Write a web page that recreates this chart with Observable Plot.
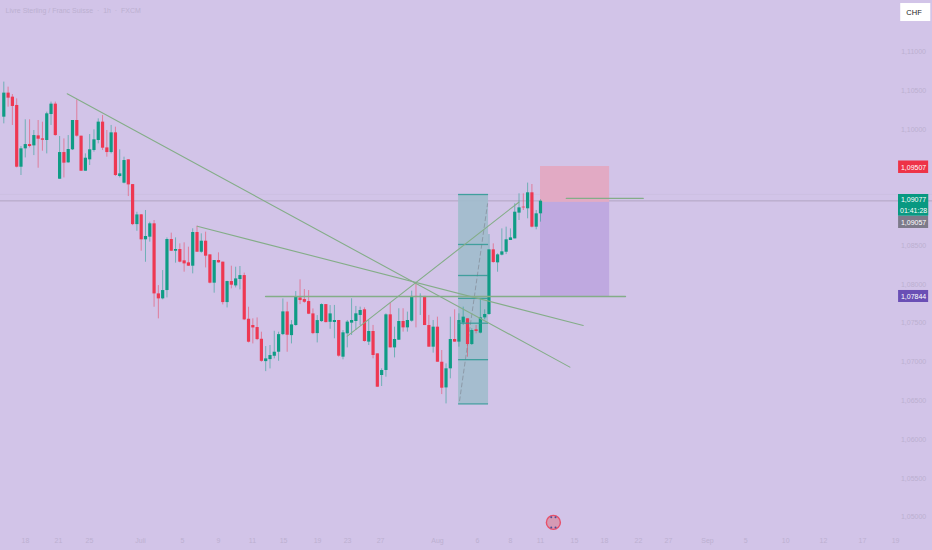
<!DOCTYPE html>
<html><head><meta charset="utf-8">
<script src="https://cdn.jsdelivr.net/npm/d3@7"></script>
<script src="https://cdn.jsdelivr.net/npm/@observablehq/plot@0.6"></script>
<style>html,body{margin:0;padding:0;background:#d2c4e8;overflow:hidden}svg{display:block}</style>
</head><body><div id="c"></div>
<script>
// prices in points (1/100000)
const opens=[110156,110466,110414,110307,109511,109748,109803,109786,109915,109876,109855,110190,110324,109356,109700,109567,109735,110113,109911,109459,109606,109726,109855,110092,109760,109700,109954,109391,109305,109606,109287,108771,
108897,108575,108609,108781,107878,107814,107921,108579,108428,108450,108304,108278,108235,108669,108415,108557,108381,108016,108308,108287,107766,108037,107981,108063,108114,107551,107470,107444,107293,107005,107031,107074,107126,107353,107646,107340,107470,107826,107805,107779,107620,107366,107521,107740,107512,
107509,107535,107062,107363,107501,107522,107600,107673,107256,107393,107105,106826,106890,107608,107182,107281,107522,107440,107526,107845,107836,107845,107470,107191,107449,106997,106666,106912,107290,107256,107501,107557,107225,107415,107372,107569,107612,
108446,108278,108377,108415,108566,108587,108919,108996,108975,109181,108738,108910];
const closes=[110466,110401,110294,109511,109748,109803,109778,109919,109872,109859,110199,110324,109919,109700,109563,109739,110113,109911,109459,109627,109735,109864,110092,109756,109700,109954,109404,109425,109597,109283,108771,108896,
108575,108618,108781,107878,107814,107921,108579,108428,108450,108287,108265,108235,108669,108415,108557,108364,108016,108308,108278,107766,108037,107990,108071,108114,107543,107255,107439,107289,107009,107040,107083,107126,107353,107646,107345,107478,107835,107792,107770,107616,107366,107534,107740,107508,107620,
107535,107075,107376,107514,107535,107621,107664,107264,107393,107084,106675,106890,107608,107182,107290,107522,107440,107535,107845,107836,107845,107470,107191,107449,106997,106662,106912,107290,107256,107535,107578,107225,107406,107393,107569,107612,108446,
108282,108381,108420,108575,108600,108931,108987,108987,109181,108738,108910,109073];
const highs=[110608,110543,110448,110392,109778,110122,110122,109984,110113,110091,110220,110350,110350,109907,109876,109919,110113,110380,109911,109683,109932,109993,110134,110178,109984,110049,110027,109735,109640,109606,109287,108930,
108901,108953,108802,108824,107985,108179,108600,108661,108600,108523,108536,108480,108717,108751,108652,108674,108381,108308,108407,108287,108041,108235,108222,108231,108145,107706,107556,107568,107384,107199,107212,107396,107384,107813,107770,107534,107908,108059,107934,107921,107684,107598,107749,107740,107727,
107729,107535,107406,107535,107815,107716,107707,107698,107535,107471,107105,106912,107621,107759,107449,107686,107686,107643,107913,108021,107879,107845,107600,107535,107578,107148,106976,107578,107673,107621,107707,107557,107428,107471,107815,107673,108643,
108523,108394,108716,108738,108716,109039,109168,109168,109306,109288,108953,109091];
const lows=[110070,110285,110049,109502,109404,109631,109760,109661,109498,109717,109683,110049,109911,109356,109373,109563,109726,109898,109459,109459,109533,109705,109812,109726,109640,109683,109391,109373,109296,109133,108758,108685,
108428,108286,108545,107706,107556,107801,107826,108424,108274,108278,108158,108231,108136,108415,108403,108213,108007,107887,108274,107736,107697,107943,107955,107930,107534,107246,107233,107276,106997,106876,106911,107040,107009,107340,107126,107233,107461,107740,107757,107611,107353,107246,107512,107504,107422,
107299,107062,107028,107182,107342,107406,107470,107256,107213,107041,106675,106684,106804,107182,107053,107277,107385,107385,107513,107440,107600,107470,107191,107114,106997,106580,106460,106783,107256,107191,107470,107062,107213,107363,107363,107544,107600,
108274,108157,108368,108385,108566,108587,108824,108953,108846,108729,108704,108803];

// drawings: bar position / price
const trendX1=[15.77,46.05,80.99], trendX2=[132.84,135.96,120.96];
const trendP1=[110457,108750,107333], trendP2=[106934,107471,109060];
const levelX1=[61.96,132], levelX2=[145.8,149.94], levelP=[107844,109110];
const fibP=[109159,108515,108115,107820,107500,107030,106460];
const boxX=[106.92,113.9];
const dashX=[107.15,113.67], dashP=[106500,109040];
const stopBox=[126,142.1,109520,109057], targetBox=[126,142.1,109057,107844];
const lastPrice=[109077], upperBand=[109160];

// axes
const yTicks=[111000,110500,110000,108500,108000,107500,107000,106500,106000,105500,105000];
const xTickPos=[6.05,13.74,20.96,32.85,42.6,51,58.9,66.15,74.07,81.06,88.75,102,111.3,119,126,133.9,140.9,148.8,155.8,164.9,173.8,183.1,191.9,201,208.7];
const xTickText=["18","21","25","Juli","5","9","11","15","19","23","27","Aug","6","8","11","15","18","22","27","Sep","5","10","12","17","19"];
const tagText=["1,09507","1,09077","01:41:28","1,09057","1,07844"];
const tagTop=[109591,109159,109159,108876,107922], tagBottom=[109430,108882,108882,108721,107767];
const tagFill=["#ee3347","#089981","#089981","#7d7a8a","#6a4fb5"];
const tagTextP=[109507,109088,108953,108798,107844];

const C={bg:"#d2c4e8",up:"#0f9c85",down:"#ee3852",line:"#84ad88",faint:"#bcb0d0"};
const bars=d3.range(opens.length).map(k=>({i:k+1,o:opens[k],c:closes[k],h:highs[k],l:lows[k],d:closes[k]>=opens[k]?"up":"down"}));
const trends=trendX1.map((_,k)=>[[trendX1[k],trendP1[k]],[trendX2[k],trendP2[k]]]);
const levels=levelX1.map((_,k)=>[[levelX1[k],levelP[k]],[levelX2[k],levelP[k]]]);
const yTk=yTicks.map(p=>({p,t:(p/100000).toFixed(5).replace(".",",")}));
const xTk=xTickPos.map((x,k)=>({x,t:xTickText[k]}));
const tags=tagText.map((t,k)=>({t,a:tagTop[k],b:tagBottom[k],f:tagFill[k],m:tagTextP[k]}));
const tagX=[209.4,216.4];
const F="'Liberation Sans',Arial,sans-serif";

const plot=Plot.plot({
  width:932,height:550,margin:0,
  style:{background:C.bg,fontFamily:F,fontSize:"7px"},
  x:{type:"linear",domain:[0.231,217.3],range:[0,932],axis:null},
  y:{type:"linear",domain:[104570,111660],range:[550,0],axis:null},
  color:{domain:["up","down"],range:[C.up,C.down]},
  marks:[
    Plot.ruleY(lastPrice,{stroke:"#a99db8",strokeWidth:1,strokeOpacity:.8}),
    Plot.ruleY(upperBand,{stroke:"#b9adcb",strokeWidth:1,strokeOpacity:.2}),
    Plot.rect([0],{x1:boxX[0],x2:boxX[1],y1:fibP[6],y2:fibP[0],fill:"#a0bccc",fillOpacity:.9}),
    Plot.rect([0],{x1:stopBox[0],x2:stopBox[1],y1:stopBox[3],y2:stopBox[2],fill:"#e2aac4"}),
    Plot.rect([0],{x1:targetBox[0],x2:targetBox[1],y1:targetBox[3],y2:targetBox[2],fill:"#bfa9e0"}),
    Plot.line(dashX.map((x,k)=>[x,dashP[k]]),{stroke:"#8d9aa8",strokeWidth:1,strokeDasharray:"4 3"}),
    Plot.ruleX(bars,{x:"i",y1:"l",y2:"h",stroke:"d",strokeWidth:1,strokeOpacity:.5}),
    Plot.ruleX(bars,{x:"i",y1:"o",y2:"c",stroke:"d",strokeWidth:3.2}),
    Plot.ruleY(fibP,{x1:boxX[0],x2:boxX[1],stroke:"#2f9a94",strokeWidth:1.3,strokeOpacity:.85}),
    ...trends.map(t=>Plot.line(t,{stroke:C.line,strokeWidth:1.1})),
    ...levels.map(t=>Plot.line(t,{stroke:C.line,strokeWidth:1.3})),
    Plot.text(yTk,{x:212.9,y:"p",text:"t",fill:C.faint,fontSize:7}),
    Plot.text(xTk,{x:"x",y:104699,text:"t",fill:C.faint,fontSize:7}),
    Plot.rect(tags,{x1:tagX[0],x2:tagX[1],y1:"b",y2:"a",fill:"f"}),
    Plot.text(tags,{x:212.9,y:"m",text:"t",fill:"#fff",fontSize:7}),
    Plot.rect([0],{x1:209.9,x2:216.9,y1:111389,y2:111621,fill:"#ffffff"}),
    Plot.text(["CHF"],{x:211.2,y:111505,text:d=>d,textAnchor:"start",fill:"#222",fontSize:7.5}),
    Plot.text(["Livre Sterling / Franc Suisse  ·  1h  ·  FXCM"],{x:1.4,y:111530,text:d=>d,textAnchor:"start",fill:C.faint,fontSize:7}),
    Plot.dot([[129,104932]],{r:7,fill:"#d59ab4",stroke:"#e8506a",strokeWidth:1.4}),
    Plot.dot([[128.5,105000],[129.5,105000],[128.5,104865],[129.5,104865]],{r:1,fill:"#4a4f96"})
  ]
});
document.getElementById("c").appendChild(plot);
</script></body></html>
